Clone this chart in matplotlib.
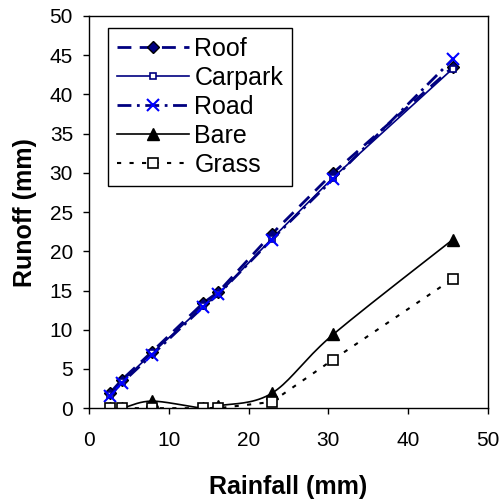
import matplotlib
matplotlib.use("Agg")
import matplotlib.pyplot as plt
import numpy as np

plt.rcParams['font.family'] = ['Liberation Sans', 'DejaVu Sans']

rainfall = [2.6, 4.1, 7.9, 14.3, 16.2, 22.9, 30.6, 45.6]
roof = [1.9, 3.6, 7.2, 13.4, 14.8, 22.2, 30.0, 43.5]
carpark = [1.7, 3.4, 7.0, 13.0, 14.5, 21.6, 29.4, 43.3]
road = [1.6, 3.2, 6.8, 12.9, 14.5, 21.5, 29.2, 44.5]
bare = [0.0, 0.0, 0.9, 0.0, 0.3, 1.9, 9.4, 21.5]
grass = [0.0, 0.0, 0.0, 0.0, 0.0, 0.8, 6.2, 16.5]


def smooth(x, y, n=20):
    # catmull-rom curve through the points, like excel's smoothed line
    x = np.asarray(x, float)
    y = np.asarray(y, float)
    px = np.concatenate([[x[0]], x, [x[-1]]])
    py = np.concatenate([[y[0]], y, [y[-1]]])
    xs, ys = [], []
    t = np.linspace(0, 1, n)
    for i in range(1, len(px) - 2):
        for p, out in ((px, xs), (py, ys)):
            p0, p1, p2, p3 = p[i - 1], p[i], p[i + 1], p[i + 2]
            out.extend(0.5 * ((2 * p1) + (-p0 + p2) * t
                              + (2 * p0 - 5 * p1 + 4 * p2 - p3) * t ** 2
                              + (-p0 + 3 * p1 - 3 * p2 + p3) * t ** 3))
    return xs, ys


fig = plt.figure(figsize=(5.0, 4.99), dpi=100)
ax = fig.add_axes([0.178, 0.182, 0.798, 0.786])

navy = '#000080'
ax.plot(rainfall, roof, color=navy, ls=(0, (5, 3)), lw=2, marker='D', ms=6.5,
        mfc=navy, mec='black', label='Roof')
ax.plot(rainfall, carpark, color=navy, ls='-', lw=1.2, marker='s', ms=4,
        mfc='white', mec=navy, mew=1.2, label='Carpark')
ax.plot(rainfall, road, color=navy, ls=(0, (5, 2, 1, 2)), lw=2, marker='x', ms=8,
        mec='#0000ff', mew=1.5, label='Road')

bx, by = smooth(rainfall, bare)
ax.plot(bx, by, color='black', lw=1.2)
ax.plot(rainfall, bare, ls='none', marker='^', ms=9, color='black')
ax.plot([], [], color='black', lw=1.2, marker='^', ms=9, label='Bare')

ax.plot(rainfall, grass, color='black', ls=(0, (2, 4)), lw=1.5, marker='s', ms=7.5,
        mfc='white', mec='black', mew=1.2, label='Grass')

ax.set_xlim(0, 50)
ax.set_ylim(0, 50)
ax.set_xticks(range(0, 51, 10))
ax.set_yticks(range(0, 51, 5))
ax.tick_params(direction='out', length=4.5, width=1, labelsize=15, top=False, right=False)
ax.tick_params(axis='x', pad=12)
ax.tick_params(axis='y', pad=7)
for s in ax.spines.values():
    s.set_linewidth(1)
ax.set_xlabel('Rainfall (mm)', fontsize=18, fontweight='bold', labelpad=18)
ax.set_ylabel('Runoff (mm)', fontsize=18, fontweight='bold', labelpad=9)

leg = ax.legend(loc='upper left', bbox_to_anchor=(0.048, 0.969), borderaxespad=0,
                fontsize=18, handlelength=2.9, handletextpad=0.2, labelspacing=0.2,
                borderpad=0.35, fancybox=False, framealpha=1, edgecolor='black')
leg.get_frame().set_linewidth(1)

fig.savefig('out.png', dpi=100)
